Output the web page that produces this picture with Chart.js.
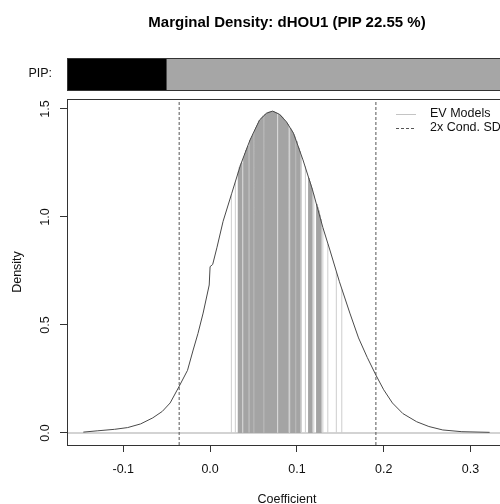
<!DOCTYPE html>
<html>
<head>
<meta charset="utf-8">
<script src="https://cdn.jsdelivr.net/npm/chart.js@4.4.1/dist/chart.umd.min.js"></script>
<style>
  html, body { margin: 0; padding: 0; background: #fff; }
  #wrap { position: relative; width: 500px; height: 504px; overflow: hidden; }
  #title { position: absolute; left: 0; top: 13px; width: 574px; text-align: center;
           font: bold 15px "Liberation Sans", Arial, sans-serif; line-height: 18px; color: #000; }
  #main { position: absolute; left: 0; top: 0; }
  #pipbar { position: absolute; left: 0; top: 50px; }
</style>
</head>
<body>
<div id="wrap">
  <canvas id="main" width="510" height="504"></canvas>
  <canvas id="pipbar" width="510" height="48"></canvas>
  <div id="title">Marginal Density: dHOU1 (PIP 22.55 %)</div>
</div>
<script>
// values
const pip = 22.55;

const xRange = [-0.1648, 0.342];
const yRange = [-0.0556, 1.546];
const xTicks = [-0.1, 0.0, 0.1, 0.2, 0.3];
const xLabels = ['-0.1', '0.0', '0.1', '0.2', '0.3'];
const yTicks = [0.0, 0.5, 1.0, 1.5];
const yLabels = ['0.0', '0.5', '1.0', '1.5'];

// marginal density curve
const curveX = [-0.146, -0.13, -0.11, -0.095, -0.08, -0.066, -0.055, -0.046, -0.036, -0.026,
  -0.0195, -0.014, -0.008, -0.001, 0.0, 0.003, 0.008, 0.015, 0.025, 0.035, 0.046, 0.057,
  0.065, 0.072, 0.080, 0.088, 0.096, 0.107, 0.118, 0.130, 0.138, 0.149, 0.161, 0.171,
  0.181, 0.191, 0.200, 0.210, 0.222, 0.238, 0.252, 0.268, 0.290, 0.322];
const curveY = [0.004, 0.010, 0.017, 0.025, 0.042, 0.070, 0.100, 0.139, 0.213, 0.290,
  0.384, 0.460, 0.555, 0.685, 0.770, 0.780, 0.860, 0.980, 1.110, 1.240, 1.356, 1.449,
  1.480, 1.490, 1.475, 1.440, 1.388, 1.264, 1.125, 0.950, 0.847, 0.700, 0.555, 0.440,
  0.350, 0.268, 0.200, 0.139, 0.090, 0.052, 0.030, 0.014, 0.006, 0.003];

// expected values of the models (dense clusters) and their density heights
const evX = [0.0328, 0.0339, 0.0351, 0.0362,
  0.0391, 0.0402, 0.0414, 0.0425, 0.0437,
  0.0460, 0.0471, 0.0483, 0.0494,
  0.0517, 0.0529, 0.0540, 0.0552, 0.0563, 0.0575, 0.0586, 0.0598, 0.0609,
  0.0632, 0.0644, 0.0655, 0.0667, 0.0678, 0.0690, 0.0701, 0.0713,
  0.0730, 0.0741, 0.0753, 0.0764,
  0.0793, 0.0805, 0.0816, 0.0828, 0.0839, 0.0851, 0.0862, 0.0874, 0.0885, 0.0897,
  0.0931, 0.0943, 0.0954, 0.0966, 0.0977,
  0.1000, 0.1011, 0.1023, 0.1034,
  0.1138, 0.1149, 0.1161, 0.1172,
  0.1230, 0.1241, 0.1253, 0.1264, 0.1276];
const evH = [1.21, 1.23, 1.24, 1.25,
  1.28, 1.295, 1.31, 1.32, 1.33,
  1.356, 1.365, 1.375, 1.385,
  1.405, 1.415, 1.425, 1.435, 1.445, 1.45, 1.456, 1.462, 1.468,
  1.476, 1.479, 1.482, 1.485, 1.487, 1.488, 1.489, 1.49,
  1.49, 1.488, 1.486, 1.483,
  1.477, 1.474, 1.47, 1.465, 1.46, 1.454, 1.448, 1.442, 1.436, 1.43,
  1.41, 1.40, 1.392, 1.383, 1.372,
  1.35, 1.33, 1.32, 1.305,
  1.18, 1.165, 1.15, 1.135,
  1.06, 1.045, 1.03, 1.01, 0.99];
// isolated models
const evSingleX = [0.0245, 0.0291, 0.0379, 0.0506, 0.0621, 0.0782, 0.0914, 0.0989,
  0.1052, 0.1098, 0.1195, 0.1299, 0.1356, 0.1454, 0.1517];
const evSingleH = [1.10, 1.16, 1.27, 1.395, 1.472, 1.48, 1.42, 1.36,
  1.285, 1.235, 1.105, 0.95, 0.875, 0.745, 0.665];

// conditional mean +/- 2 sd
const sdBounds = [-0.0356, 0.191];

const FONT = '"Liberation Sans", Arial, sans-serif';

function stems(xs, hs) {
  const out = [];
  xs.forEach((x, i) => {
    out.push({x: x, y: 0}, {x: x, y: hs[i]}, {x: x, y: null});
  });
  return out;
}

const frame = {
  id: 'frame',
  afterDraw(chart) {
    const {ctx, chartArea: a} = chart;
    ctx.save();
    ctx.strokeStyle = '#333';
    ctx.lineWidth = 1;
    ctx.strokeRect(a.left + 0.5, a.top + 0.5, a.right - a.left, a.bottom - a.top);
    ctx.restore();
  }
};

// legend in the top right corner, like R's legend()
const rLegend = {
  id: 'rLegend',
  afterDraw(chart) {
    const {ctx, chartArea: a} = chart;
    const x0 = a.left + 329, x1 = x0 + 20, tx = a.left + 363;
    const rows = [
      {y: a.top + 15, color: '#c4c4c4', dash: [], text: 'EV Models'},
      {y: a.top + 29, color: '#555', dash: [3, 2], text: '2x Cond. SD'}
    ];
    ctx.save();
    ctx.font = '12.5px ' + FONT;
    ctx.textBaseline = 'middle';
    ctx.fillStyle = '#111';
    rows.forEach(r => {
      ctx.beginPath();
      ctx.strokeStyle = r.color;
      ctx.lineWidth = 1;
      ctx.setLineDash(r.dash);
      ctx.moveTo(x0, r.y + 0.5);
      ctx.lineTo(x1, r.y + 0.5);
      ctx.stroke();
      ctx.fillText(r.text, tx, r.y);
    });
    ctx.restore();
  }
};

new Chart(document.getElementById('main'), {
  type: 'scatter',
  data: {
    datasets: [
      {
        label: 'baseline',
        data: [{x: xRange[0], y: 0}, {x: xRange[1], y: 0}],
        showLine: true, borderColor: '#d3d3d3', borderWidth: 2, pointRadius: 0, order: 5
      },
      {
        label: 'EV single',
        data: stems(evSingleX, evSingleH),
        showLine: true, spanGaps: false, borderColor: '#cdcdcd', borderWidth: 1, pointRadius: 0, order: 4
      },
      {
        label: 'EV Models',
        data: stems(evX, evH),
        showLine: true, spanGaps: false, borderColor: '#a4a4a4', borderWidth: 1.6, pointRadius: 0, order: 3
      },
      {
        label: '2x Cond. SD',
        data: stems(sdBounds, sdBounds.map(() => yRange[1])).map(p => p.y === 0 ? {x: p.x, y: yRange[0]} : p),
        showLine: true, spanGaps: false, borderColor: '#555', borderWidth: 1, borderDash: [3, 2],
        pointRadius: 0, order: 2
      },
      {
        label: 'density',
        data: curveX.map((x, i) => ({x: x, y: curveY[i]})),
        showLine: true, borderColor: '#4a4a4a', borderWidth: 1, pointRadius: 0, tension: 0, order: 1
      }
    ]
  },
  options: {
    responsive: false,
    animation: false,
    layout: {padding: {top: 99, right: 3, left: 0, bottom: 0}},
    plugins: {legend: {display: false}, tooltip: {enabled: false}},
    scales: {
      x: {
        type: 'linear', min: xRange[0], max: xRange[1],
        afterFit: s => { s.height = 59; },
        afterBuildTicks: s => { s.ticks = xTicks.map(v => ({value: v})); },
        grid: {drawOnChartArea: false, drawTicks: true, tickLength: 7, color: '#333'},
        border: {display: false},
        ticks: {
          color: '#111', font: {family: FONT, size: 12.5}, padding: 10, maxRotation: 0,
          callback: v => xLabels[xTicks.findIndex(t => Math.abs(t - v) < 1e-9)]
        },
        title: {display: true, text: 'Coefficient', color: '#111', font: {family: FONT, size: 12.5},
          padding: {top: 0, bottom: -3}}
      },
      y: {
        type: 'linear', min: yRange[0], max: yRange[1],
        afterFit: s => { s.width = 67; },
        afterBuildTicks: s => { s.ticks = yTicks.map(v => ({value: v})); },
        grid: {drawOnChartArea: false, drawTicks: true, tickLength: 7, color: '#333'},
        border: {display: false},
        ticks: {
          color: '#111', font: {family: FONT, size: 12.5}, padding: 6,
          minRotation: 90, maxRotation: 90, crossAlign: 'center',
          callback: v => yLabels[yTicks.findIndex(t => Math.abs(t - v) < 1e-9)]
        },
        title: {display: true, text: 'Density', color: '#111', font: {family: FONT, size: 12.5},
          padding: {top: 10, bottom: 0}}
      }
    }
  },
  plugins: [frame, rLegend]
});

// PIP bar above the plot
new Chart(document.getElementById('pipbar'), {
  type: 'bar',
  data: {
    labels: ['PIP:'],
    datasets: [
      {data: [pip], backgroundColor: '#000', barPercentage: 1, categoryPercentage: 1},
      {data: [100 - pip], backgroundColor: '#a6a6a6', barPercentage: 1, categoryPercentage: 1}
    ]
  },
  options: {
    indexAxis: 'y',
    responsive: false,
    animation: false,
    layout: {autoPadding: false, padding: {top: 8, bottom: 8, right: 3, left: 0}},
    plugins: {legend: {display: false}, tooltip: {enabled: false}},
    scales: {
      x: {stacked: true, min: 0, max: 100, display: false},
      y: {
        stacked: true,
        afterFit: s => { s.width = 67; },
        // tick length used as the gap between the label and the bar
        grid: {display: false, drawTicks: true, tickLength: 15},
        border: {display: false},
        ticks: {color: '#111', font: {family: FONT, size: 12.5}, padding: 0}
      }
    }
  },
  plugins: [frame]
});
</script>
</body>
</html>
